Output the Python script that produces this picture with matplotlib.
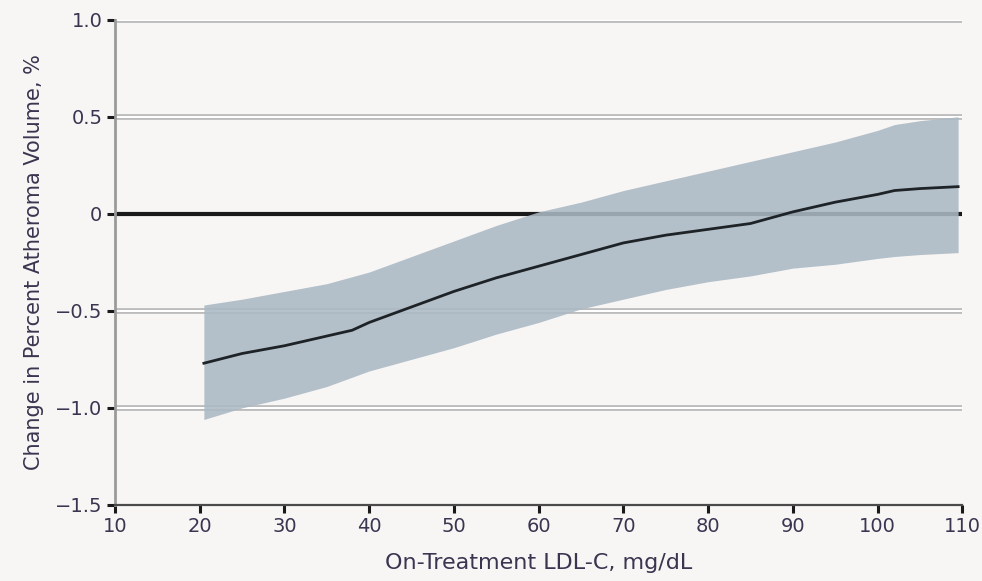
import matplotlib as mpl
mpl.use('Agg')
import matplotlib.pyplot as plt
import matplotlib.patheffects as pe

plt.rcParams['font.family'] = ['DejaVu Sans']

# fitted line
ldl = [20.5, 25, 30, 35, 38, 40, 45, 50, 55, 60, 65, 70, 75, 80, 85, 90, 95, 100, 102, 105, 109.5]
change = [-0.77, -0.72, -0.68, -0.63, -0.60, -0.56, -0.48, -0.40, -0.33, -0.27, -0.21, -0.15,
          -0.11, -0.08, -0.05, 0.01, 0.06, 0.10, 0.12, 0.13, 0.14]

# confidence band
band_x = [20.5, 25, 30, 35, 40, 45, 50, 55, 60, 65, 70, 75, 80, 85, 90, 95, 100, 102, 105, 109.5]
upper = [-0.47, -0.44, -0.40, -0.36, -0.30, -0.22, -0.14, -0.06, 0.01, 0.06, 0.12, 0.17,
         0.22, 0.27, 0.32, 0.37, 0.43, 0.46, 0.48, 0.50]
lower = [-1.06, -1.00, -0.95, -0.89, -0.81, -0.75, -0.69, -0.62, -0.56, -0.49, -0.44, -0.39,
         -0.35, -0.32, -0.28, -0.26, -0.23, -0.22, -0.21, -0.20]

xticks = [10, 20, 30, 40, 50, 60, 70, 80, 90, 100, 110]
yticks = [1.0, 0.5, 0, -0.5, -1.0, -1.5]
ytick_labels = ['1.0', '0.5', '0', '\u22120.5', '\u22121.0', '\u22121.5']
grid_y = [1.0, 0.5, -0.5, -1.0]

bg = '#f8f6f4'
fig = plt.figure(figsize=(9.82, 5.81), dpi=100, facecolor=bg)
ax = fig.add_axes([0.117, 0.131, 0.863, 0.835], facecolor=bg)

outline = [pe.Stroke(linewidth=4, foreground='#b4b4b4'), pe.Normal()]
for g in grid_y:
    ax.axhline(g, color='white', lw=1.6, zorder=1, path_effects=outline)
ax.axhline(0, color='#1a1a1a', lw=3, zorder=1.5)

ax.fill_between(band_x, lower, upper, color='#abb9c4', alpha=0.88, lw=0, zorder=2)
ax.plot(ldl, change, color='#1e2328', lw=2, zorder=3)

ax.set_xlim(10, 110)
ax.set_ylim(-1.5, 1.0)
ax.set_xticks(xticks)
ax.set_yticks(yticks)
ax.set_yticklabels(ytick_labels)

for s in ['top', 'right']:
    ax.spines[s].set_visible(False)
ax.spines['left'].set_color('#9a9a9a')
ax.spines['left'].set_linewidth(2)
ax.spines['bottom'].set_color('#4a4a4a')
ax.spines['bottom'].set_linewidth(1.6)

ax.tick_params(axis='both', direction='out', length=6, width=2.2, color='#1a1a1a',
               labelsize=14, labelcolor='#3a3550', pad=3)

ax.set_xlabel('On-Treatment LDL-C, mg/dL', fontsize=16, color='#3a3550', labelpad=12)
ax.set_ylabel('Change in Percent Atheroma Volume, %', fontsize=15, color='#3a3550', labelpad=8)

plt.savefig('out.png', dpi=100, facecolor=bg)
